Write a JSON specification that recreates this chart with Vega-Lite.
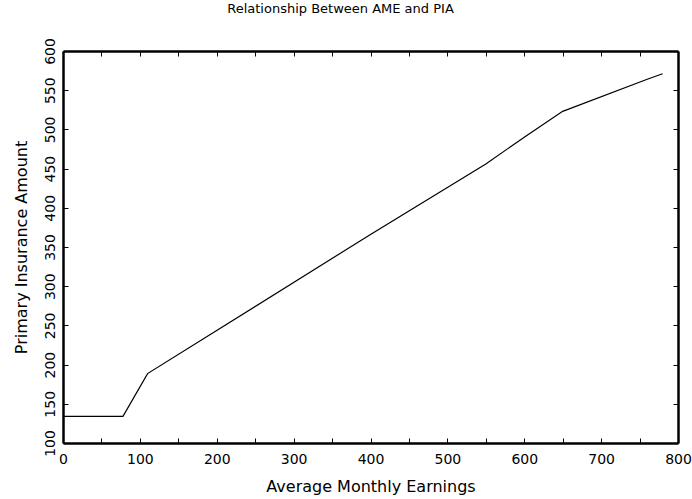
{
  "$schema": "https://vega.github.io/schema/vega-lite/v6.json",
  "width": 615,
  "height": 392,
  "autosize": {"type": "none"},
  "padding": {"left": 63, "top": 51, "right": 14, "bottom": 56},
  "background": "white",
  "title": {
    "text": "Relationship Between AME and PIA",
    "font": "DejaVu Sans",
    "fontSize": 13,
    "fontWeight": "normal",
    "color": "#000000",
    "anchor": "middle",
    "dx": -30,
    "offset": 22
  },
  "config": {
    "view": {"stroke": null},
    "axis": {
      "labelFont": "DejaVu Sans",
      "titleFont": "DejaVu Sans",
      "labelFontSize": 14,
      "titleFontSize": 16,
      "titleFontWeight": "normal",
      "labelColor": "#000000",
      "titleColor": "#000000",
      "domainColor": "#000000",
      "domainWidth": 2.5,
      "tickColor": "#000000",
      "tickWidth": 1,
      "grid": false
    }
  },
  "data": {
    "values": [
      {"ame": 0, "pia": 134},
      {"ame": 78, "pia": 134},
      {"ame": 110, "pia": 188.5},
      {"ame": 400, "pia": 366},
      {"ame": 550, "pia": 456},
      {"ame": 600, "pia": 490},
      {"ame": 650, "pia": 523},
      {"ame": 760, "pia": 564},
      {"ame": 780, "pia": 571}
    ]
  },
  "layer": [
    {
      "mark": {"type": "line", "color": "#000000", "strokeWidth": 1.2},
      "encoding": {
        "x": {
          "field": "ame",
          "type": "quantitative",
          "scale": {"domain": [0, 800], "nice": false},
          "axis": {
            "orient": "bottom",
            "title": "Average Monthly Earnings",
            "values": [0, 50, 100, 150, 200, 250, 300, 350, 400, 450, 500, 550, 600, 650, 700, 750, 800],
            "labelExpr": "datum.value % 100 === 0 ? datum.label : ''",
            "tickSize": -5,
            "labelPadding": 14,
            "titlePadding": 12,
            "labelFlush": false,
            "labelOverlap": false
          }
        },
        "y": {
          "field": "pia",
          "type": "quantitative",
          "scale": {"domain": [100, 600], "nice": false, "zero": false},
          "axis": {
            "orient": "left",
            "title": "Primary Insurance Amount",
            "values": [100, 150, 200, 250, 300, 350, 400, 450, 500, 550, 600],
            "labelAngle": -90,
            "labelAlign": "center",
            "labelBaseline": "bottom",
            "tickSize": -5,
            "labelPadding": 11,
            "titlePadding": 14,
            "labelFlush": false,
            "labelOverlap": false
          }
        }
      }
    },
    {
      "mark": {"type": "line", "opacity": 0},
      "encoding": {
        "x": {
          "field": "ame",
          "type": "quantitative",
          "scale": {"domain": [0, 800], "nice": false},
          "axis": {
            "orient": "top",
            "title": null,
            "labels": false,
            "values": [0, 50, 100, 150, 200, 250, 300, 350, 400, 450, 500, 550, 600, 650, 700, 750, 800],
            "tickSize": -5
          }
        },
        "y": {
          "field": "pia",
          "type": "quantitative",
          "scale": {"domain": [100, 600], "nice": false, "zero": false},
          "axis": {
            "orient": "right",
            "title": null,
            "labels": false,
            "values": [100, 150, 200, 250, 300, 350, 400, 450, 500, 550, 600],
            "tickSize": -5
          }
        }
      }
    }
  ],
  "resolve": {"axis": {"x": "independent", "y": "independent"}}
}
